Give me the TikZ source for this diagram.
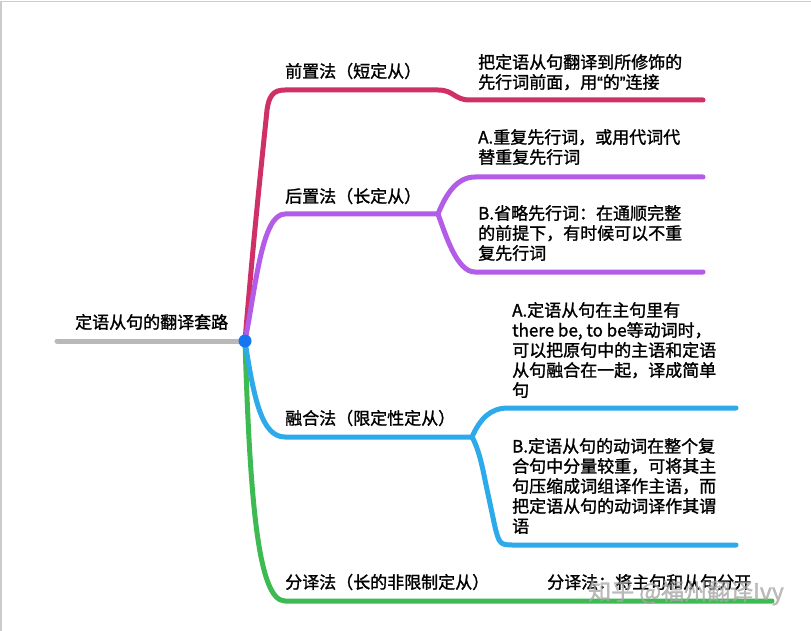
\documentclass[tikz,border=0pt]{standalone}
\usepackage{fontspec}
\setmainfont{Noto Sans CJK SC}[FakeBold=1.4]
\newfontfamily\qfont{Liberation Sans}[FakeBold=1.4]
\definecolor{cmag}{RGB}{208,48,104}
\definecolor{cpur}{RGB}{178,92,232}
\definecolor{cblu}{RGB}{44,170,234}
\definecolor{cgrn}{RGB}{62,186,82}
\definecolor{cdot}{RGB}{22,118,240}
\definecolor{cgry}{RGB}{185,185,185}
\begin{document}
\begin{tikzpicture}[x=1pt,y=-1pt,
  branch/.style={line width=5pt, line cap=round, line join=round},
  txt/.style={anchor=base west, inner sep=0pt, align=left, font=\fontsize{17}{20}\selectfont},
  frameline/.style={line width=1.5pt, draw=black!20}]
\useasboundingbox (0,0) rectangle (811,631);
\fill[white] (0,0) rectangle (811,631);
\draw[frameline] (1,631) -- (1,1.5) -- (811,1.5);

% coordinates
\coordinate (hub) at (245,341);
\coordinate (rootL) at (57,341);
\coordinate (mK) at (267,110);
\coordinate (m1) at (285,90);
\coordinate (m2) at (438,90);
\coordinate (m3) at (470,100);
\coordinate (mE) at (703,100);
\coordinate (p1) at (285,214);
\coordinate (pF) at (438,214);
\coordinate (pU) at (475,177);
\coordinate (pUE) at (703,177);
\coordinate (pD) at (475,272);
\coordinate (pDE) at (703,272);
\coordinate (b1) at (285,437);
\coordinate (bF) at (472,437);
\coordinate (bU) at (508,408);
\coordinate (bUE) at (736,408);
\coordinate (bL) at (485,480);
\coordinate (bK) at (495,527);
\coordinate (bD) at (512,545);
\coordinate (bDE) at (736,545);
\coordinate (g1) at (285,601);
\coordinate (gE) at (772,601);

% root line
\draw[line width=5pt, cgry, line cap=round] (rootL) -- (hub);

% branches
\draw[branch, cmag] (hub) .. controls +(9,-110) and +(-4,40) .. (mK)
   .. controls +(2,-14) and +(-12,0) .. (m1) -- (m2)
   .. controls +(16,0) and +(-16,0) .. (m3) -- (mE);
\draw[branch, cpur] (hub) .. controls +(11,-56) and +(-23,0) .. (p1) -- (pF);
\draw[branch, cpur] (pF) .. controls +(8,-20) and +(-18,0) .. (pU) -- (pUE);
\draw[branch, cpur] (pF) .. controls +(8,22) and +(-18,0) .. (pD) -- (pDE);
\draw[branch, cgrn] (hub) .. controls +(5,159) and +(-27,0) .. (g1) -- (gE);
\draw[branch, cblu] (hub) .. controls +(9,59) and +(-23,0) .. (b1) -- (bF);
\draw[branch, cblu] (bF) .. controls +(8,-18) and +(-18,0) .. (bU) -- (bUE);
\draw[branch, cblu] (bF) .. controls +(7,12) and +(-2,-10) .. (bL) -- (bK)
   .. controls +(4,16) and +(-12,0) .. (bD) -- (bDE);

\node[circle, fill=cdot, minimum size=13pt, inner sep=0pt] (dot) at (hub) {};

% texts (multi-line nodes: base is the last line's baseline)
\node[txt] (root) at (75,328.5) {定语从句的翻译套路};
\node[txt] (lm) at (285,77.5) {前置法（短定从）};
\node[txt] (tm) at (478,88.5) {把定语从句翻译到所修饰的\\先行词前面，用{\qfont“}的{\qfont”}连接};
\node[txt] (lp) at (285,202.5) {后置法（长定从）};
\node[txt] (tpa) at (478,163.5) {A.重复先行词，或用代词代\\替重复先行词};
\node[txt] (tpb) at (478,259.5) {B.省略先行词：在通顺完整\\的前提下，有时候可以不重\\复先行词};
\node[txt] (lb) at (285,424.5) {融合法（限定性定从）};
\node[txt] (tba) at (512,396.5) {A.定语从句在主句里有\\there be, to be等动词时，\\可以把原句中的主语和定语\\从句融合在一起，译成简单\\句};
\node[txt] (tbb) at (512,532.5) {B.定语从句的动词在整个复\\合句中分量较重，可将其主\\句压缩成词组译作主语，而\\把定语从句的动词译作其谓\\语};
\node[txt] (lg) at (285,588.5) {分译法（长的非限制定从）};
\node[txt] (tg) at (547,588.5) {分译法：将主句和从句分开};
\node[anchor=west, inner sep=0pt, font=\fontsize{23}{23}\selectfont, text=black!35, opacity=0.75] (wm) at (588,593) {知乎 @福州翻译Ivy};
\end{tikzpicture}
\end{document}
